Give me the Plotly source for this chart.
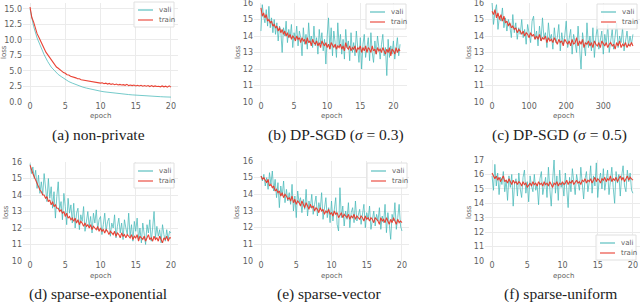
import numpy as np
import plotly.graph_objects as go

# ---------------- data ----------------
a_vali = [15.0, 12.2, 10.3, 8.9, 7.6, 6.5, 5.6, 5.0, 4.4, 4.0, 3.6, 3.25, 3.0, 2.75, 2.55, 2.35, 2.2, 2.05,
          1.9, 1.8, 1.7, 1.6, 1.52, 1.45, 1.38, 1.32, 1.26, 1.2, 1.15, 1.1, 1.05, 1.0, 0.97, 0.93, 0.9, 0.87,
          0.84, 0.81, 0.78, 0.76, 0.74]
a_train = [15.3, 13.6, 12.9, 11.8, 11.0, 10.4, 9.7, 9.1, 8.6, 8.0, 7.6, 7.0, 6.7, 6.3, 6.0, 5.6, 5.4, 5.1,
           4.95, 4.7, 4.6, 4.35, 4.3, 4.1, 4.05, 3.9, 3.85, 3.7, 3.7, 3.55, 3.5, 3.45, 3.35, 3.4, 3.25, 3.3,
           3.15, 3.2, 3.05, 3.1, 3.0, 3.05, 2.9, 3.0, 2.85, 2.95, 2.8, 2.9, 2.75, 2.85, 2.7, 2.8, 2.7, 2.75,
           2.65, 2.8, 2.6, 2.7, 2.6, 2.7, 2.55, 2.65, 2.55, 2.65, 2.5, 2.6, 2.5, 2.6, 2.45, 2.6, 2.45, 2.55,
           2.45, 2.5, 2.4, 2.55, 2.4, 2.5, 2.35, 2.55, 2.35]

b_vali = [14.3, 15.9, 15.2, 14.8, 15.6, 14.6, 15.8, 14.5, 15.1, 14.2,
          15.0, 14.1, 14.8, 13.7, 14.6, 14.3, 13.0, 14.5, 14.0, 14.9,
          13.6, 14.4, 13.9, 14.7, 13.3, 14.2, 13.8, 14.6, 13.4, 14.3,
          13.9, 12.8, 14.5, 13.5, 14.1, 13.2, 14.8, 13.6, 14.0, 13.3,
          14.6, 13.4, 13.9, 12.9, 14.4, 13.5, 14.2, 13.1, 13.8, 12.3,
          14.0, 15.1, 13.2, 14.5, 12.8, 14.3, 13.6, 12.7, 14.8, 13.4,
          14.1, 12.9, 13.8, 12.6, 14.4, 13.3, 13.7, 12.5, 14.2, 13.0,
          13.6, 12.8, 14.3, 13.2, 12.4, 13.9, 12.0, 13.5, 14.1, 12.7,
          13.3, 13.9, 12.5, 14.2, 13.0, 12.4, 13.7, 12.9, 14.0, 13.2,
          12.6, 13.5, 14.1, 12.8, 13.3, 11.6, 13.8, 12.7, 13.4, 12.9,
          13.7, 12.6, 13.3, 13.9, 12.8, 13.5]
b_train = [15.7, 15.2, 15.4, 15.1, 15.3, 14.9, 15.0, 14.8, 14.9, 14.6,
           14.7, 14.5, 14.6, 14.3, 14.5, 14.2, 14.4, 14.1, 14.3, 14.0,
           14.2, 13.9, 14.1, 13.8, 14.0, 13.9, 13.7, 14.0, 13.8, 13.9,
           13.6, 13.9, 13.7, 13.8, 13.5, 13.9, 13.6, 13.7, 13.4, 13.8,
           13.6, 13.5, 13.7, 13.4, 13.6, 13.3, 13.7, 13.5, 13.4, 13.6,
           13.3, 13.5, 13.2, 13.6, 13.4, 13.3, 13.5, 13.2, 13.4, 13.3,
           13.5, 13.2, 13.4, 13.1, 13.6, 13.3, 13.2, 13.4, 13.1, 13.3,
           13.2, 13.4, 13.0, 13.3, 13.2, 13.4, 13.0, 13.3, 13.1, 13.4,
           13.0, 13.3, 13.2, 13.0, 13.4, 13.1, 13.2, 12.9, 13.3, 13.1,
           13.2, 13.0, 13.3, 13.1, 12.9, 13.2, 13.0, 13.3, 12.8, 13.2,
           13.1, 12.9, 13.3, 13.0, 13.2, 13.1]

c_vali = [16.0, 14.7, 15.5, 15.9, 14.4, 15.2, 14.9, 15.7, 14.5, 15.1,
          14.3, 15.0, 14.6, 13.9, 15.3, 14.2, 14.8, 13.8, 14.5, 14.1,
          15.0, 13.9, 14.4, 13.5, 14.7, 14.0, 13.6, 14.9, 15.2, 13.8,
          14.3, 13.4, 14.6, 13.7, 15.1, 13.9, 14.2, 13.3, 14.8, 13.8,
          14.1, 13.2, 14.5, 13.6, 13.9, 14.7, 13.1, 14.2, 13.5, 14.0,
          14.9, 13.3, 13.8, 14.4, 12.9, 14.1, 13.6, 13.0, 14.6, 13.4,
          12.0, 14.2, 13.5, 12.8, 14.8, 13.3, 14.0, 13.1, 14.5, 12.7,
          13.9, 14.6, 13.2, 13.8, 14.3, 12.9, 14.1, 13.5, 14.7, 13.0,
          13.7, 14.4, 13.2, 13.9, 14.8, 13.3, 14.0, 13.6, 14.5, 13.1,
          13.8, 14.3, 13.4, 14.0, 13.5, 14.1]
c_train = [15.5, 15.3, 15.6, 15.1, 15.4, 15.0, 15.3, 14.9, 15.2, 14.8,
           14.9, 14.6, 14.8, 14.5, 14.6, 14.4, 14.5, 14.2, 14.4, 14.3,
           14.1, 14.3, 14.0, 14.2, 14.1, 13.9, 14.2, 14.0, 14.1, 13.8,
           14.0, 13.8, 14.1, 13.7, 13.9, 13.8, 14.0, 13.6, 13.9, 13.7,
           13.8, 13.6, 13.9, 13.7, 13.5, 13.8, 13.6, 13.7, 13.4, 13.8,
           13.6, 13.5, 13.7, 13.4, 13.8, 13.5, 13.6, 13.9, 13.4, 13.7,
           13.5, 13.8, 13.3, 13.6, 13.5, 13.7, 13.4, 13.6, 13.3, 13.7,
           13.5, 13.4, 13.6, 13.3, 13.7, 13.5, 13.4, 13.6, 13.3, 13.5,
           13.6, 13.4, 13.5, 13.2, 13.6, 13.4, 13.7, 13.3, 13.5, 13.4,
           13.6, 13.3, 13.5, 13.4, 13.6, 13.4]

d_vali = [15.9, 15.3, 15.7, 15.0, 15.5, 14.4, 15.2, 14.1, 14.8, 14.0,
          15.3, 14.3, 13.6, 15.0, 13.8, 14.5, 13.2, 14.2, 12.6, 13.9,
          14.8, 13.1, 13.6, 12.5, 14.1, 13.3, 12.2, 13.8, 12.9, 13.4,
          12.3, 13.5, 12.0, 12.9, 13.2, 11.9, 12.8, 12.4, 13.3, 11.8,
          12.6, 13.0, 12.1, 12.7, 11.7, 12.9, 12.3, 13.1, 11.9, 12.5,
          12.7, 11.6, 12.2, 12.9, 11.8, 12.4, 12.6, 11.5, 12.3, 12.0,
          12.8, 11.4, 12.1, 12.6, 11.7, 12.3, 11.3, 12.5, 12.0, 11.6,
          12.9, 11.5, 12.2, 11.2, 12.4, 11.8, 12.6, 11.3, 12.0, 11.1,
          12.3, 11.6, 11.0, 12.2, 11.7, 12.5, 11.2, 12.0, 13.0, 11.4,
          12.1, 11.5, 11.9, 11.1, 12.2, 11.6, 11.2, 11.9, 11.3, 11.8,
          11.7]
d_train = [15.8, 15.5, 15.3, 15.1, 14.9, 14.6, 14.5, 14.3, 14.2, 14.0,
           14.0, 13.8, 13.9, 13.6, 13.7, 13.4, 13.6, 13.3, 13.4, 13.2,
           13.2, 13.0, 13.1, 12.9, 13.0, 12.7, 12.9, 12.6, 12.7, 12.5,
           12.6, 12.4, 12.6, 12.3, 12.5, 12.2, 12.4, 12.3, 12.1, 12.3,
           12.1, 12.2, 12.0, 12.2, 11.9, 12.1, 12.0, 11.9, 12.1, 11.8,
           12.0, 11.8, 11.9, 11.7, 11.9, 11.8, 11.6, 11.8, 11.7, 11.6,
           11.8, 11.5, 11.7, 11.6, 11.4, 11.7, 11.5, 11.6, 11.4, 11.6,
           11.5, 11.4, 11.6, 11.3, 11.5, 11.4, 11.6, 11.2, 11.5, 11.4,
           11.3, 11.5, 11.2, 11.4, 11.6, 11.3, 11.4, 11.2, 11.5, 11.3,
           11.4, 11.2, 11.5, 11.3, 11.1, 11.4, 11.3, 11.5, 11.2, 11.4,
           11.4]

e_vali = [15.1, 14.8, 15.2, 14.5, 15.0, 14.3, 15.3, 14.6, 15.4, 14.2,
          14.9, 13.8, 14.7, 13.2, 14.5, 13.9, 14.8, 13.5, 14.3, 13.6,
          14.1, 13.4, 14.6, 13.0, 13.9, 12.6, 14.2, 13.5, 13.8, 12.9,
          13.7, 13.1, 14.3, 12.7, 13.6, 13.2, 14.0, 12.8, 13.4, 13.9,
          12.7, 13.5, 13.1, 14.1, 12.5, 13.3, 13.8, 12.6, 13.2, 12.3,
          13.6, 12.4, 13.0, 13.8, 12.2, 11.8, 14.4, 12.6, 13.3, 12.1,
          13.0, 12.5, 13.5, 12.0, 12.9, 13.2, 12.3, 13.6, 12.4, 12.8,
          13.1, 12.2, 12.7, 13.4, 12.0, 12.9, 12.5, 13.3, 11.9, 12.6,
          13.0, 12.1, 12.8, 12.4, 13.2, 11.9, 12.7, 12.3, 13.4, 11.7,
          12.9, 12.2, 11.3, 12.8, 12.4, 13.5, 11.9, 12.6, 13.4, 12.1,
          11.8]
e_train = [15.1, 14.9, 15.0, 14.8, 14.7, 14.9, 14.5, 14.6, 14.4, 14.5,
           14.2, 14.3, 14.1, 14.2, 13.9, 14.1, 13.8, 14.0, 13.9, 13.7,
           13.8, 13.6, 13.9, 13.5, 13.7, 13.4, 13.6, 13.5, 13.3, 13.6,
           13.4, 13.2, 13.5, 13.3, 13.1, 13.4, 13.2, 13.3, 13.0, 13.2,
           13.1, 12.9, 13.2, 13.0, 13.1, 12.8, 13.0, 12.9, 13.1, 12.8,
           12.9, 12.7, 13.0, 12.8, 12.9, 12.6, 12.8, 12.9, 12.6, 12.8,
           12.7, 12.6, 12.8, 12.5, 12.7, 12.6, 12.8, 12.5, 12.7, 12.6,
           12.5, 12.7, 12.6, 12.4, 12.7, 12.5, 12.6, 12.4, 12.6, 12.5,
           12.3, 12.6, 12.5, 12.4, 12.2, 12.6, 12.4, 12.5, 12.3, 12.6,
           12.4, 12.2, 12.5, 12.3, 12.6, 12.4, 12.2, 12.5, 12.3, 12.4,
           12.3]

f_vali = [15.9, 14.9, 16.7, 15.2, 16.1, 14.6, 15.8, 15.3, 16.2, 14.8,
          15.6, 14.2, 15.9, 15.1, 16.0, 13.8, 15.4, 15.7, 14.5, 16.1,
          15.0, 14.4, 15.8, 16.3, 14.7, 15.5, 14.1, 15.9, 15.2, 14.8,
          16.0, 14.9, 15.3, 13.9, 15.7, 16.2, 14.6, 15.1, 15.8, 14.4,
          16.5, 15.0, 13.8, 15.6, 17.0, 14.7, 15.9, 14.2, 16.3, 15.1,
          15.4, 14.5, 16.1, 15.0, 13.7, 15.8, 14.8, 16.4, 15.2, 14.6,
          16.0, 15.3, 14.9, 16.5, 15.1, 14.3, 15.7, 16.2, 14.8, 15.5,
          16.6, 14.7, 15.9, 15.2, 16.8, 14.4, 15.6, 16.1, 15.0, 16.4,
          14.9, 15.7, 16.3, 14.6, 15.8, 16.5, 15.1, 14.0, 16.2, 15.4,
          16.0, 14.5, 15.9, 16.6, 15.2, 14.8, 16.3, 15.5, 16.1, 14.9,
          14.7]
f_train = [16.1, 15.9, 15.7, 15.9, 15.6, 15.8, 15.5, 15.7, 15.9, 15.5,
           15.6, 15.4, 15.7, 15.5, 15.3, 15.6, 15.4, 15.5, 15.3, 15.5,
           15.4, 15.2, 15.5, 15.3, 15.4, 15.1, 15.3, 15.4, 15.2, 15.5,
           15.3, 15.4, 15.2, 15.5, 15.3, 15.4, 15.2, 15.5, 15.3, 15.4,
           15.2, 15.5, 15.3, 15.1, 15.4, 15.3, 15.5, 15.2, 15.4, 15.3,
           15.5, 15.3, 15.4, 15.6, 15.3, 15.5, 15.4, 15.6, 15.3, 15.5,
           15.6, 15.4, 15.5, 15.3, 15.6, 15.5, 15.7, 15.4, 15.6, 15.5,
           15.7, 15.4, 15.6, 15.8, 15.5, 15.7, 15.6, 15.4, 15.7, 15.6,
           15.8, 15.5, 15.7, 15.6, 15.9, 15.5, 15.7, 15.6, 15.8, 15.5,
           15.7, 15.9, 15.6, 15.8, 15.5, 15.7, 15.9, 15.6, 15.8, 15.7,
           15.6]

captions = ["(a) non-private", "(b) DP-SGD (<i>σ</i> = 0.3)", "(c) DP-SGD (<i>σ</i> = 0.5)",
            "(d) sparse-exponential", "(e) sparse-vector", "(f) sparse-uniform"]
series_names = ["vali", "train"]

# ---------------- layout geometry (pixels) ----------------
W, H = 640, 302
VALI_C = "#45b8b8"
TRAIN_C = "#e8392a"
GRID_C = "#ebebeb"
TICK_FONT = dict(family="DejaVu Sans", size=8, color="#606060")
LABEL_FONT = dict(family="DejaVu Sans", size=7, color="#606060")

panels = [
    dict(v=a_vali, t=a_train, xend=20, xd=(23, 178), yd=(3, 102), xr=[-1, 21], yr=[-0.05, 15.95],
         yt=[0, 2.5, 5, 7.5, 10, 12.5, 15], yf=".1f", xt=[0, 5, 10, 15, 20]),
    dict(v=b_vali, t=b_train, xend=21, xd=(254, 407), yd=(3, 102), xr=[-1.05, 22.05], yr=[10, 16],
         yt=[10, 11, 12, 13, 14, 15, 16], yf="d", xt=[0, 5, 10, 15, 20]),
    dict(v=c_vali, t=c_train, xend=380, xd=(485, 640), yd=(3, 102), xr=[-19, 399], yr=[10, 16],
         yt=[10, 11, 12, 13, 14, 15, 16], yf="d", xt=[0, 100, 200, 300]),
    dict(v=d_vali, t=d_train, xend=20, xd=(23, 178), yd=(162, 261), xr=[-1, 21], yr=[10, 16],
         yt=[10, 11, 12, 13, 14, 15, 16], yf="d", xt=[0, 5, 10, 15, 20]),
    dict(v=e_vali, t=e_train, xend=20, xd=(254, 409), yd=(161, 261), xr=[-1, 21], yr=[10, 16],
         yt=[10, 11, 12, 13, 14, 15, 16], yf="d", xt=[0, 5, 10, 15, 20]),
    dict(v=f_vali, t=f_train, xend=20, xd=(485, 640), yd=(160, 261), xr=[-1, 21], yr=[10, 17],
         yt=[10, 11, 12, 13, 14, 15, 16, 17], yf="d", xt=[0, 5, 10, 15, 20]),
]
# legend box: (right px, top px)
legend_pos = [(174, 2), (406, 4), (637, 4), (174, 163), (407, 163), (636, 235)]
loss_pos = [(4, 52), (238, 52), (469, 52), (6, 212), (237, 212), (469, 212)]
epoch_pos = [(100, 116), (331, 116), (563, 116), (100, 276), (331, 276), (563, 276)]
caption_pos = [(98, 135), (336, 135), (559, 135), (98, 294), (329, 294), (560, 294)]


def px(xp):
    return xp / W


def py(yp):
    return 1 - yp / H


fig = go.Figure()
layout = dict(width=W, height=H, margin=dict(l=0, r=0, t=0, b=0),
              paper_bgcolor="white", plot_bgcolor="white", showlegend=False)
shapes, annotations = [], []

for i, p in enumerate(panels):
    k = "" if i == 0 else str(i + 1)
    xa, ya = "x" + k, "y" + k
    xv = np.linspace(0, p["xend"], len(p["v"]))
    xt = np.linspace(0, p["xend"], len(p["t"]))
    fig.add_trace(go.Scatter(x=xv, y=p["v"], mode="lines", name=series_names[0], xaxis=xa, yaxis=ya,
                             line=dict(color=VALI_C, width=1), opacity=0.75))
    fig.add_trace(go.Scatter(x=xt, y=p["t"], mode="lines", name=series_names[1], xaxis=xa, yaxis=ya,
                             line=dict(color=TRAIN_C, width=1.1), opacity=0.95))
    layout["xaxis" + k] = dict(domain=[px(p["xd"][0]), px(p["xd"][1])], anchor=ya, range=p["xr"],
                               tickvals=p["xt"], showgrid=True, gridcolor=GRID_C, gridwidth=1,
                               zeroline=False, showline=False, ticks="", tickfont=TICK_FONT,
                               automargin=False, fixedrange=True, ticklabeloverflow="allow",
                               ticklabelstandoff=-2)
    layout["yaxis" + k] = dict(domain=[py(p["yd"][1]), py(p["yd"][0])], anchor=xa, range=p["yr"],
                               tickvals=p["yt"], tickformat=p["yf"], showgrid=True, gridcolor=GRID_C,
                               gridwidth=1, zeroline=False, showline=False, ticks="",
                               tickfont=TICK_FONT, automargin=False, fixedrange=True,
                               ticklabeloverflow="allow")

    lx, ly = loss_pos[i]
    annotations.append(dict(text="loss", x=px(lx), y=py(ly), xref="paper", yref="paper",
                            xanchor="center", yanchor="middle", showarrow=False, textangle=-90,
                            font=LABEL_FONT))
    ex, ey = epoch_pos[i]
    annotations.append(dict(text="epoch", x=px(ex), y=py(ey), xref="paper", yref="paper",
                            xanchor="center", yanchor="middle", showarrow=False, font=LABEL_FONT))
    cx, cy = caption_pos[i]
    annotations.append(dict(text=captions[i], x=px(cx), y=py(cy), xref="paper", yref="paper",
                            xanchor="center", yanchor="middle", showarrow=False,
                            font=dict(family="Liberation Serif", size=15.5, color="#222222")))

    # legend box
    R, T = legend_pos[i]
    shapes.append(dict(type="rect", xref="paper", yref="paper", x0=px(R - 40), x1=px(R),
                       y0=py(T + 25), y1=py(T), fillcolor="rgba(255,255,255,0.85)",
                       line=dict(color="#e0e0e0", width=1), layer="above"))
    for nm, col, dy in [(series_names[0], VALI_C, 8), (series_names[1], TRAIN_C, 18)]:
        shapes.append(dict(type="line", xref="paper", yref="paper", x0=px(R - 36), x1=px(R - 21),
                           y0=py(T + dy), y1=py(T + dy), line=dict(color=col, width=1.4),
                           opacity=0.75, layer="above"))
        annotations.append(dict(text=nm, x=px(R - 17), y=py(T + dy), xref="paper", yref="paper",
                                xanchor="left", yanchor="middle", showarrow=False, font=LABEL_FONT))

layout["shapes"] = shapes
layout["annotations"] = annotations
fig.update_layout(**layout)
fig.write_html("out.html", config={"displayModeBar": False, "staticPlot": True},
               post_script="document.body.style.margin='0';document.body.style.overflow='hidden';")
